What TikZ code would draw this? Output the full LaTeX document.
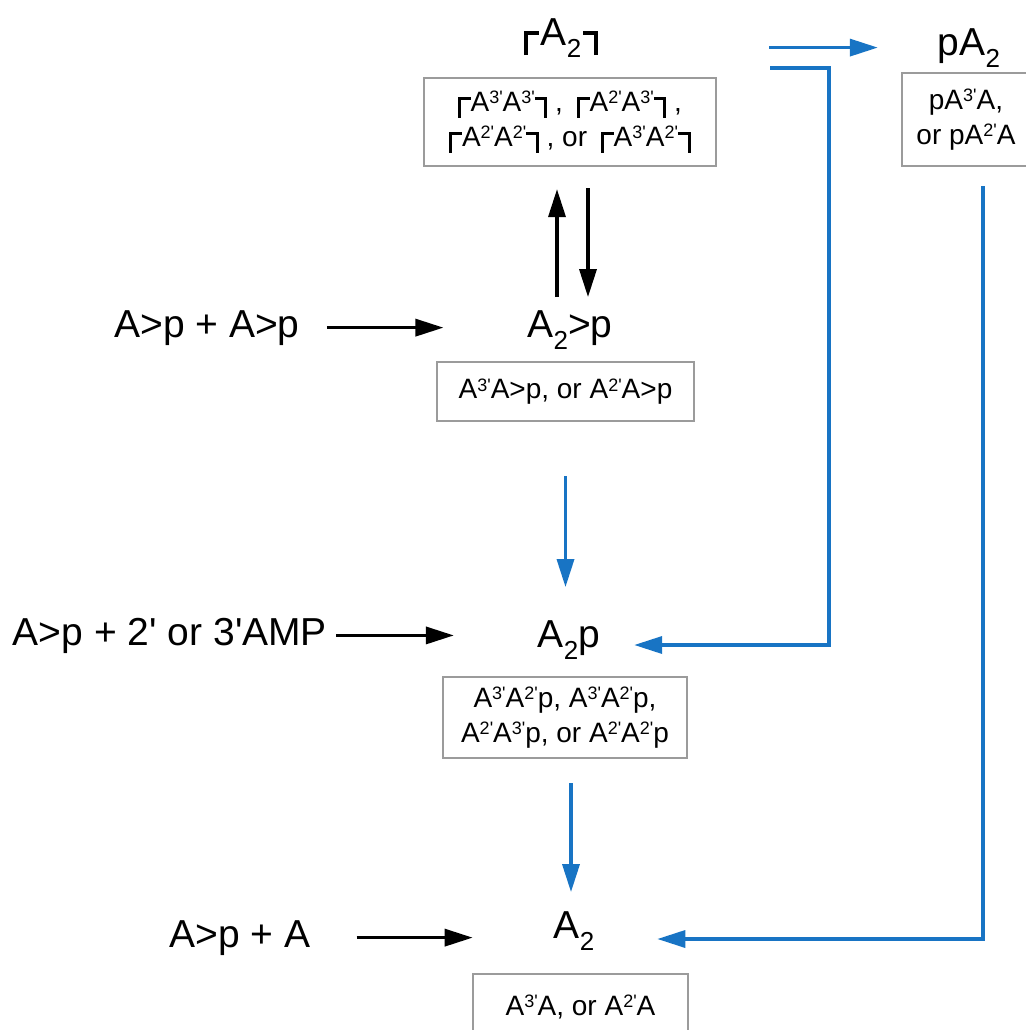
\documentclass[tikz,border=0pt]{standalone}
\usepackage{fontspec}
\setmainfont{Liberation Sans}
\usetikzlibrary{arrows.meta}

\definecolor{flowblue}{RGB}{24,116,196}
\definecolor{framegray}{RGB}{155,155,155}

\newcommand{\lowr}[1]{\raisebox{-6pt}{\fontsize{13}{13}\selectfont #1}}
\newcommand{\supr}[1]{\raisebox{3.8pt}{\fontsize{9}{9}\selectfont #1}}
\newcommand{\prm}{\textquotesingle}
\newcommand{\cycl}{\rule[-3pt]{1.5pt}{10.5pt}\rule[6pt]{4.8pt}{1.5pt}}
\newcommand{\cycr}{\rule[6pt]{4.8pt}{1.5pt}\rule[-3pt]{1.5pt}{10.5pt}}
\newcommand{\bigcycl}{\rule[-5pt]{1.9pt}{11.8pt}\rule[4.9pt]{5.6pt}{1.9pt}\kern1pt}
\newcommand{\bigcycr}{\kern1pt\rule[4.9pt]{5.6pt}{1.9pt}\rule[-5pt]{1.9pt}{11.8pt}}

\begin{document}
\begin{tikzpicture}[x=0.5pt, y=-0.5pt]
    % Define styles
    \tikzstyle{species} = [font=\fontsize{19.5}{23}\selectfont, anchor=base]
    \tikzstyle{isomers} = [rectangle, draw=framegray, line width=1.1pt, align=center,
                          font=\fontsize{14}{17.5}\selectfont]
    \tikzstyle{arrow} = [line width=1.7pt, -{Triangle[length=14pt,width=8.5pt]}]
    \tikzstyle{blue arrow} = [arrow, flowblue]

    \useasboundingbox (0,0) rectangle (1026,1030);
    \clip (0,0) rectangle (1026,1030);

    % Species, positioned absolutely on their base lines
    \node[species] (cyc) at (561,45) {\bigcycl A\lowr{2}\bigcycr};
    \node[species] (pa) at (969,55) {pA\lowr{2}};
    \node[species] (cp) at (570,337) {A\lowr{2}>p};
    \node[species] (a2p) at (569,647) {A\lowr{2}p};
    \node[species] (a2) at (574,938) {A\lowr{2}};

    % Reactants
    \node[species] (lhs1) at (207,337) {A>p + A>p};
    \node[species] (lhs2) at (170,645) {A>p + 2\prm{} or 3\prm AMP};
    \node[species] (lhs3) at (240,947) {A>p + A};

    % Isomer boxes
    \node[isomers, minimum width=146pt, minimum height=44pt] (cycbox) at (570,122)
        {\cycl A\supr{3\prm}A\supr{3\prm}\cycr\ ,\enspace\cycl A\supr{2\prm}A\supr{3\prm}\cycr\ ,\\
         \cycl A\supr{2\prm}A\supr{2\prm}\cycr\ , or\enspace\cycl A\supr{3\prm}A\supr{2\prm}\cycr};
    \node[isomers, minimum width=64pt, minimum height=46.5pt] (pabox) at (966,119.5)
        {pA\supr{3\prm}A,\\or pA\supr{2\prm}A};
    \node[isomers, minimum width=128.5pt, minimum height=29.5pt] (cpbox) at (565.5,391.5)
        {A\supr{3\prm}A>p, or A\supr{2\prm}A>p};
    \node[isomers, minimum width=122pt, minimum height=40.5pt] (a2pbox) at (565,717.5)
        {A\supr{3\prm}A\supr{2\prm}p, A\supr{3\prm}A\supr{2\prm}p,\\
         A\supr{2\prm}A\supr{3\prm}p, or A\supr{2\prm}A\supr{2\prm}p};
    \node[isomers, minimum width=107.5pt, minimum height=33pt] (a2box) at (580.5,1007)
        {A\supr{3\prm}A, or A\supr{2\prm}A};

    % Bends of the long blue lines
    \coordinate (ltop) at (770,68);
    \coordinate (lbend) at (829,645);
    \coordinate (rbend) at (983,939);

    % Black arrows
    \draw[arrow, shorten <=10pt, shorten >=38.5pt] (lhs1.east) -- (lhs1.east -| cp.west);
    \draw[arrow, shorten <=1pt, shorten >=38.5pt] (lhs2.east) -- (lhs2.east -| a2p.west);
    \draw[arrow, shorten <=19.5pt, shorten >=37pt] (lhs3.east) -- (lhs3.east -| a2.west);
    \draw[arrow, shorten <=3pt, shorten >=11pt] ([xshift=-6.5pt]cp.north) -- ([xshift=-6.5pt]cp.north |- cycbox.south);
    \draw[arrow, shorten <=10.5pt, shorten >=3pt] ([xshift=9pt]cp.north |- cycbox.south) -- ([xshift=9pt]cp.north);

    % Blue arrows
    \draw[blue arrow, shorten <=82pt, shorten >=26.5pt] (cyc.east |- pa.west) -- (pa.west);
    \draw[blue arrow, shorten >=13.5pt] (ltop) -| (lbend) -- (lbend -| a2p.east);
    \draw[blue arrow, shorten <=9.5pt, shorten >=28pt] (pabox.south -| rbend) -- (rbend) -- (rbend -| a2.east);
    \draw[blue arrow, shorten <=27pt, shorten >=13pt] (cpbox.south) -- (cpbox.south |- a2p.north);
    \draw[blue arrow, shorten <=12pt, shorten >=6pt] ([xshift=3pt]a2pbox.south) -- ([xshift=3pt]a2pbox.south |- a2.north);
\end{tikzpicture}
\end{document}
